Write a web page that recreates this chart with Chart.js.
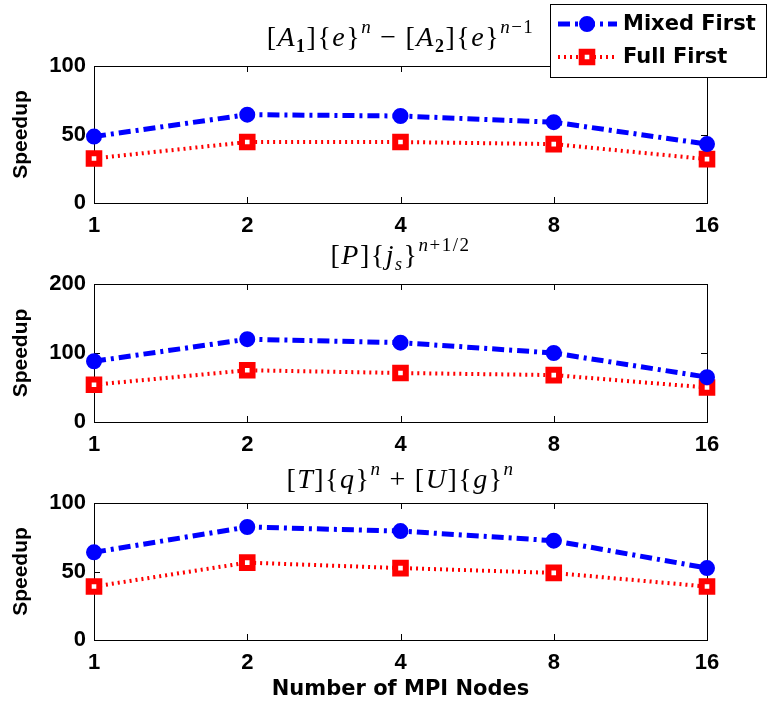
<!DOCTYPE html>
<html>
<head>
<meta charset="utf-8">
<script src="https://cdn.jsdelivr.net/npm/chart.js@4/dist/chart.umd.min.js"></script>
<style>
  html, body { margin: 0; padding: 0; background: #fff; }
  #wrap { position: relative; width: 769px; height: 706px; overflow: hidden; background: #fff; }
  canvas { position: absolute; left: 0; }
  .ttl { position: absolute; left: 0; width: 801px; text-align: center; font-family: "Liberation Serif", "DejaVu Serif", serif; font-size: 28px; letter-spacing: 1.5px; color: #000; line-height: 30px; white-space: nowrap; }
  .ttl i { font-style: italic; }
  .ttl sub { font-size: 18px; font-weight: bold; vertical-align: -6px; line-height: 0; }
  .ttl sup { font-size: 19px; vertical-align: 13px; line-height: 0; }
  .ttl .op { margin: 0 8px; }
</style>
</head>
<body>
<div id="wrap">
  <canvas id="c1" width="769" height="235" style="top:0px"></canvas>
  <canvas id="c2" width="769" height="220" style="top:235px"></canvas>
  <canvas id="c3" width="769" height="251" style="top:455px"></canvas>
  <div class="ttl" style="top:22px">[<i>A</i><sub>1</sub>]{<i>e</i>}<sup><i>n</i></sup><span class="op">&minus;</span>[<i>A</i><sub>2</sub>]{<i>e</i>}<sup><i>n</i>&minus;1</sup></div>
  <div class="ttl" style="top:240px">[<i>P</i>]{<i>j</i><sub style="font-weight:normal"><i>s</i></sub>}<sup><i>n</i>+1/2</sup></div>
  <div class="ttl" style="top:464px">[<i>T</i>]{<i>q</i>}<sup><i>n</i></sup><span class="op">+</span>[<i>U</i>]{<i>g</i>}<sup><i>n</i></sup></div>
</div>
<script>
// ---- data ----
const nodes = ['1', '2', '4', '8', '16'];
const seriesNames = ['Mixed First', 'Full First'];
const mixed1 = [48.5, 64.5, 63.5, 59, 43];
const full1  = [32.5, 44.5, 44.5, 43, 32];
const mixed2 = [88, 120, 115, 100, 65];
const full2  = [54, 75, 71, 68, 50];
const mixed3 = [64, 82.5, 79.5, 72.5, 52.5];
const full3  = [39, 56.5, 52.5, 49, 39];
const yMax = [100, 200, 100];
const yStep = [50, 100, 50];
const xTitle = 'Number of MPI Nodes';
const yTitle = 'Speedup';

const BLUE = '#0000ff', RED = '#ff0000';
const mixedStyle = { borderColor: BLUE, backgroundColor: BLUE, borderWidth: 5, borderDash: [12, 5, 3, 5],
  pointStyle: 'circle', pointRadius: 7, pointBorderWidth: 2, pointBackgroundColor: BLUE, pointBorderColor: BLUE };
const fullStyle = { borderColor: RED, backgroundColor: RED, borderWidth: 4, borderDash: [2, 4],
  pointStyle: 'rect', pointRadius: 7.5, pointBorderWidth: 6, pointBackgroundColor: '#ffffff', pointBorderColor: RED };

const framePlugin = {
  id: 'frame',
  beforeDatasetsDraw(chart) {
    const { ctx, chartArea: a, scales } = chart;
    ctx.save();
    ctx.strokeStyle = '#000';
    ctx.lineWidth = 1;
    ctx.setLineDash([]);
    ctx.strokeRect(Math.round(a.left) + 0.5, Math.round(a.top) + 0.5, Math.round(a.right - a.left), Math.round(a.bottom - a.top));
    const L = 6;
    ctx.beginPath();
    scales.x.ticks.forEach((t, i) => {
      const px = Math.round(scales.x.getPixelForTick(i)) + 0.5;
      ctx.moveTo(px, a.top); ctx.lineTo(px, a.top + L);
      ctx.moveTo(px, a.bottom); ctx.lineTo(px, a.bottom - L);
    });
    scales.y.ticks.forEach((t, i) => {
      const py = Math.round(scales.y.getPixelForTick(i)) + 0.5;
      ctx.moveTo(a.left, py); ctx.lineTo(a.left + L, py);
      ctx.moveTo(a.right, py); ctx.lineTo(a.right - L, py);
    });
    ctx.stroke();
    ctx.restore();
  }
};

const legendPlugin = {
  id: 'boxLegend',
  afterDraw(chart, args, opts) {
    if (!opts || !opts.show) return;
    const ctx = chart.ctx;
    ctx.save();
    ctx.setLineDash([]);
    ctx.fillStyle = '#fff';
    ctx.fillRect(550, 4, 216, 73);
    ctx.strokeStyle = '#000';
    ctx.lineWidth = 1;
    ctx.strokeRect(550.5, 4.5, 216, 73);
    const rows = [24, 57];
    chart.data.datasets.forEach((ds, i) => {
      const y = rows[i];
      ctx.save();
      ctx.strokeStyle = ds.borderColor;
      ctx.lineWidth = ds.borderWidth;
      ctx.setLineDash(ds.borderDash);
      ctx.beginPath(); ctx.moveTo(558, y); ctx.lineTo(617, y); ctx.stroke();
      ctx.setLineDash([]);
      ctx.lineWidth = ds.pointBorderWidth;
      ctx.strokeStyle = ds.pointBorderColor;
      ctx.fillStyle = ds.pointBackgroundColor;
      const r = ds.pointRadius, cx = 587;
      ctx.beginPath();
      if (ds.pointStyle === 'circle') { ctx.arc(cx, y, r, 0, Math.PI * 2); }
      else { const s = Math.SQRT1_2 * r; ctx.rect(cx - s, y - s, 2 * s, 2 * s); }
      ctx.fill(); ctx.stroke();
      ctx.restore();
      ctx.fillStyle = '#000';
      ctx.font = 'bold 21px "DejaVu Sans", sans-serif';
      ctx.textBaseline = 'middle';
      ctx.textAlign = 'left';
      ctx.fillText(ds.label, 623, y + 1);
    });
    ctx.restore();
  }
};

function makeChart(id, mixed, full, idx, padTop, xHeight, showXTitle, showLegend) {
  return new Chart(document.getElementById(id), {
    type: 'line',
    data: {
      labels: nodes,
      datasets: [
        Object.assign({ label: seriesNames[0], data: mixed, clip: false }, mixedStyle),
        Object.assign({ label: seriesNames[1], data: full, clip: false }, fullStyle)
      ]
    },
    options: {
      responsive: false,
      animation: false,
      devicePixelRatio: 1,
      layout: { padding: { left: 0, right: 62, top: padTop, bottom: 0 } },
      plugins: { legend: { display: false }, tooltip: { enabled: false }, title: { display: false },
        boxLegend: { show: showLegend } },
      elements: { line: { tension: 0 } },
      scales: {
        x: {
          type: 'category', offset: false,
          grid: { display: false, drawTicks: false },
          border: { display: false },
          ticks: { color: '#000', padding: 10, maxRotation: 0, autoSkip: false,
            font: { family: '"Liberation Sans", Arial, sans-serif', weight: 'bold', size: 22 } },
          title: { display: showXTitle, text: xTitle, color: '#000', padding: { top: 0, bottom: 4 },
            font: { family: '"DejaVu Sans", sans-serif', weight: 'bold', size: 21 } },
          afterFit(s) { s.height = xHeight; }
        },
        y: {
          min: 0, max: yMax[idx],
          grid: { display: false, drawTicks: false },
          border: { display: false },
          ticks: { stepSize: yStep[idx], color: '#000', padding: 8,
            font: { family: '"Liberation Sans", Arial, sans-serif', weight: 'bold', size: 22 } },
          title: { display: true, text: yTitle, color: '#000', padding: { top: 9, bottom: 0 },
            font: { family: '"Liberation Sans", Arial, sans-serif', weight: 'bold', size: 21 } },
          afterFit(s) { s.width = 94; }
        }
      }
    },
    plugins: [framePlugin, legendPlugin]
  });
}

makeChart('c1', mixed1, full1, 0, 66, 32, false, true);
makeChart('c2', mixed2, full2, 1, 49, 33, false, false);
makeChart('c3', mixed3, full3, 2, 48, 66, true, false);
</script>
</body>
</html>
